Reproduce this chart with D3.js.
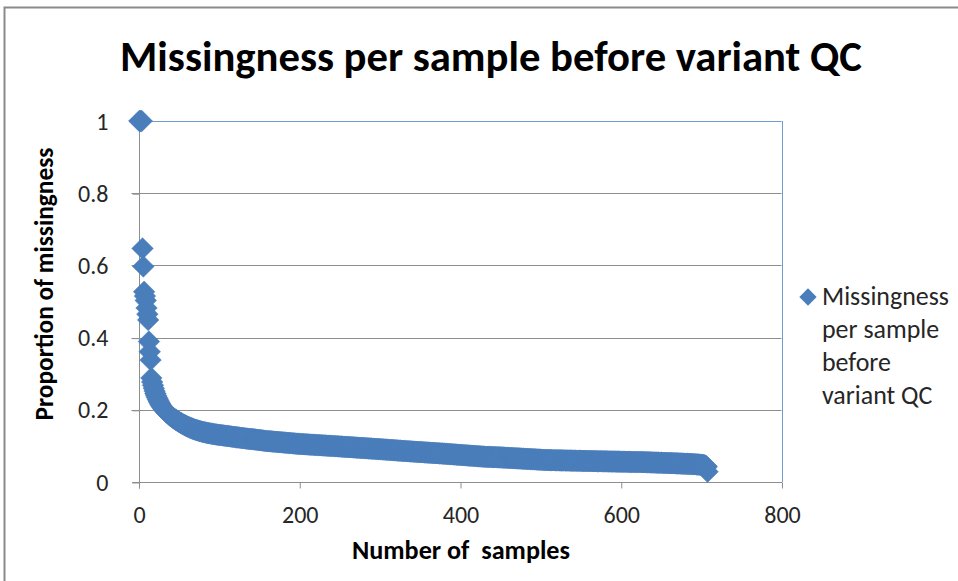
<!DOCTYPE html>
<html>
<head>
<meta charset="utf-8">
<script src="https://cdn.jsdelivr.net/npm/d3@7"></script>
<style>
  html, body { margin: 0; padding: 0; background: #fff; }
  svg { display: block; }
  text { font-family: Carlito, Lato, "Open Sans", sans-serif; }
</style>
</head>
<body>
<svg id="chart" width="958" height="581"></svg>
<script>
// Missingness proportion for each sample, sorted from highest to lowest.
const missingness = [
  1.0000, 1.0000, 1.0000, 1.0000, 0.6470, 0.5970, 0.5270, 0.5150, 0.5030, 0.4820,
  0.4650, 0.4490, 0.3890, 0.3610, 0.3380, 0.2880, 0.2770, 0.2680, 0.2600, 0.2520,
  0.2450, 0.2390, 0.2340, 0.2290, 0.2245, 0.2200, 0.2160, 0.2125, 0.2090, 0.2060,
  0.2030, 0.2002, 0.1976, 0.1951, 0.1928, 0.1906, 0.1885, 0.1865, 0.1846, 0.1828,
  0.1810, 0.1793, 0.1776, 0.1760, 0.1744, 0.1729, 0.1714, 0.1699, 0.1685, 0.1671,
  0.1657, 0.1644, 0.1631, 0.1618, 0.1605, 0.1593, 0.1581, 0.1569, 0.1558, 0.1547,
  0.1536, 0.1526, 0.1516, 0.1506, 0.1497, 0.1488, 0.1479, 0.1470, 0.1462, 0.1454,
  0.1446, 0.1439, 0.1432, 0.1425, 0.1418, 0.1412, 0.1406, 0.1400, 0.1394, 0.1388,
  0.1383, 0.1378, 0.1373, 0.1368, 0.1363, 0.1358, 0.1354, 0.1350, 0.1346, 0.1342,
  0.1338, 0.1334, 0.1330, 0.1326, 0.1322, 0.1318, 0.1315, 0.1312, 0.1309, 0.1306,
  0.1303, 0.1300, 0.1297, 0.1294, 0.1291, 0.1288, 0.1285, 0.1282, 0.1279, 0.1276,
  0.1273, 0.1270, 0.1267, 0.1264, 0.1261, 0.1258, 0.1255, 0.1252, 0.1249, 0.1246,
  0.1243, 0.1240, 0.1237, 0.1234, 0.1231, 0.1228, 0.1225, 0.1222, 0.1219, 0.1216,
  0.1213, 0.1210, 0.1207, 0.1204, 0.1201, 0.1198, 0.1196, 0.1194, 0.1192, 0.1190,
  0.1188, 0.1186, 0.1184, 0.1181, 0.1178, 0.1175, 0.1172, 0.1169, 0.1166, 0.1163,
  0.1160, 0.1157, 0.1154, 0.1151, 0.1148, 0.1145, 0.1142, 0.1139, 0.1137, 0.1135,
  0.1133, 0.1131, 0.1129, 0.1127, 0.1125, 0.1123, 0.1121, 0.1119, 0.1117, 0.1115,
  0.1113, 0.1111, 0.1109, 0.1107, 0.1105, 0.1103, 0.1101, 0.1099, 0.1097, 0.1095,
  0.1093, 0.1091, 0.1089, 0.1087, 0.1085, 0.1083, 0.1081, 0.1079, 0.1077, 0.1075,
  0.1073, 0.1071, 0.1069, 0.1067, 0.1065, 0.1063, 0.1061, 0.1059, 0.1057, 0.1055,
  0.1054, 0.1052, 0.1051, 0.1049, 0.1048, 0.1047, 0.1045, 0.1044, 0.1042, 0.1041,
  0.1040, 0.1038, 0.1037, 0.1035, 0.1034, 0.1033, 0.1031, 0.1030, 0.1028, 0.1027,
  0.1026, 0.1024, 0.1023, 0.1021, 0.1020, 0.1019, 0.1017, 0.1016, 0.1014, 0.1013,
  0.1012, 0.1010, 0.1009, 0.1007, 0.1006, 0.1005, 0.1003, 0.1002, 0.1000, 0.0999,
  0.0998, 0.0996, 0.0995, 0.0993, 0.0992, 0.0991, 0.0989, 0.0988, 0.0986, 0.0985,
  0.0983, 0.0982, 0.0980, 0.0979, 0.0977, 0.0976, 0.0974, 0.0973, 0.0971, 0.0970,
  0.0968, 0.0967, 0.0965, 0.0964, 0.0962, 0.0961, 0.0959, 0.0958, 0.0956, 0.0955,
  0.0953, 0.0952, 0.0950, 0.0949, 0.0947, 0.0946, 0.0944, 0.0943, 0.0941, 0.0940,
  0.0938, 0.0937, 0.0935, 0.0934, 0.0932, 0.0931, 0.0929, 0.0928, 0.0926, 0.0925,
  0.0923, 0.0922, 0.0920, 0.0919, 0.0917, 0.0916, 0.0914, 0.0913, 0.0911, 0.0910,
  0.0908, 0.0907, 0.0905, 0.0903, 0.0902, 0.0900, 0.0898, 0.0897, 0.0895, 0.0893,
  0.0892, 0.0890, 0.0888, 0.0887, 0.0885, 0.0883, 0.0882, 0.0880, 0.0878, 0.0877,
  0.0875, 0.0873, 0.0872, 0.0870, 0.0868, 0.0867, 0.0865, 0.0863, 0.0862, 0.0860,
  0.0858, 0.0857, 0.0855, 0.0854, 0.0852, 0.0851, 0.0849, 0.0848, 0.0846, 0.0845,
  0.0843, 0.0842, 0.0840, 0.0839, 0.0837, 0.0836, 0.0834, 0.0833, 0.0831, 0.0830,
  0.0828, 0.0827, 0.0825, 0.0824, 0.0822, 0.0821, 0.0819, 0.0818, 0.0816, 0.0815,
  0.0813, 0.0812, 0.0810, 0.0809, 0.0807, 0.0806, 0.0804, 0.0803, 0.0801, 0.0800,
  0.0798, 0.0797, 0.0795, 0.0794, 0.0792, 0.0791, 0.0789, 0.0788, 0.0786, 0.0785,
  0.0783, 0.0781, 0.0780, 0.0778, 0.0776, 0.0775, 0.0773, 0.0771, 0.0770, 0.0768,
  0.0766, 0.0765, 0.0763, 0.0761, 0.0760, 0.0758, 0.0756, 0.0755, 0.0753, 0.0751,
  0.0750, 0.0748, 0.0746, 0.0745, 0.0743, 0.0741, 0.0740, 0.0738, 0.0736, 0.0735,
  0.0733, 0.0731, 0.0730, 0.0728, 0.0726, 0.0725, 0.0723, 0.0721, 0.0720, 0.0718,
  0.0716, 0.0715, 0.0713, 0.0711, 0.0710, 0.0708, 0.0706, 0.0705, 0.0703, 0.0701,
  0.0700, 0.0699, 0.0698, 0.0697, 0.0696, 0.0695, 0.0694, 0.0693, 0.0692, 0.0691,
  0.0690, 0.0689, 0.0688, 0.0687, 0.0686, 0.0685, 0.0684, 0.0683, 0.0682, 0.0681,
  0.0680, 0.0679, 0.0677, 0.0676, 0.0675, 0.0674, 0.0672, 0.0671, 0.0670, 0.0669,
  0.0667, 0.0666, 0.0665, 0.0664, 0.0662, 0.0661, 0.0660, 0.0659, 0.0657, 0.0656,
  0.0655, 0.0654, 0.0652, 0.0651, 0.0650, 0.0649, 0.0647, 0.0646, 0.0645, 0.0644,
  0.0642, 0.0641, 0.0640, 0.0639, 0.0637, 0.0636, 0.0635, 0.0634, 0.0632, 0.0631,
  0.0630, 0.0629, 0.0627, 0.0626, 0.0625, 0.0624, 0.0622, 0.0621, 0.0620, 0.0619,
  0.0617, 0.0616, 0.0615, 0.0614, 0.0612, 0.0611, 0.0610, 0.0609, 0.0608, 0.0607,
  0.0606, 0.0606, 0.0605, 0.0605, 0.0604, 0.0604, 0.0603, 0.0603, 0.0602, 0.0602,
  0.0601, 0.0601, 0.0600, 0.0600, 0.0599, 0.0599, 0.0598, 0.0598, 0.0597, 0.0597,
  0.0596, 0.0596, 0.0595, 0.0595, 0.0594, 0.0594, 0.0593, 0.0593, 0.0592, 0.0592,
  0.0591, 0.0591, 0.0590, 0.0590, 0.0589, 0.0589, 0.0588, 0.0588, 0.0587, 0.0587,
  0.0586, 0.0586, 0.0585, 0.0585, 0.0584, 0.0584, 0.0583, 0.0583, 0.0582, 0.0582,
  0.0581, 0.0581, 0.0580, 0.0580, 0.0579, 0.0579, 0.0578, 0.0578, 0.0577, 0.0577,
  0.0576, 0.0576, 0.0575, 0.0575, 0.0574, 0.0574, 0.0573, 0.0573, 0.0572, 0.0572,
  0.0572, 0.0571, 0.0571, 0.0570, 0.0570, 0.0569, 0.0569, 0.0568, 0.0568, 0.0567,
  0.0567, 0.0567, 0.0566, 0.0566, 0.0565, 0.0565, 0.0564, 0.0564, 0.0563, 0.0563,
  0.0562, 0.0562, 0.0562, 0.0561, 0.0561, 0.0560, 0.0560, 0.0559, 0.0559, 0.0558,
  0.0558, 0.0557, 0.0557, 0.0557, 0.0556, 0.0556, 0.0555, 0.0555, 0.0554, 0.0554,
  0.0553, 0.0553, 0.0552, 0.0552, 0.0552, 0.0551, 0.0551, 0.0550, 0.0550, 0.0549,
  0.0548, 0.0547, 0.0547, 0.0546, 0.0545, 0.0544, 0.0543, 0.0542, 0.0542, 0.0541,
  0.0540, 0.0539, 0.0538, 0.0538, 0.0537, 0.0536, 0.0535, 0.0534, 0.0534, 0.0533,
  0.0532, 0.0531, 0.0530, 0.0530, 0.0529, 0.0528, 0.0527, 0.0526, 0.0526, 0.0525,
  0.0524, 0.0523, 0.0522, 0.0522, 0.0521, 0.0520, 0.0519, 0.0518, 0.0517, 0.0516,
  0.0515, 0.0514, 0.0513, 0.0512, 0.0511, 0.0510, 0.0509, 0.0508, 0.0507, 0.0506,
  0.0505, 0.0504, 0.0503, 0.0502, 0.0501, 0.0500, 0.0499, 0.0497, 0.0496, 0.0495,
  0.0493, 0.0492, 0.0490, 0.0489, 0.0487, 0.0485, 0.0483, 0.0481, 0.0479, 0.0477,
  0.0474, 0.0471, 0.0467, 0.0462, 0.0456, 0.0447, 0.0420, 0.0285
];

const xTickValues = [0, 200, 400, 600, 800];
const yTickValues = [0, 0.2, 0.4, 0.6, 0.8, 1];
const yTickLabels = ["0", "0.2", "0.4", "0.6", "0.8", "1"];

const chartTitle = "Missingness per sample before variant QC";
const xTitle = "Number of  samples";
const yTitle = "Proportion of missingness";
const legendLines = ["Missingness", "per sample", "before", "variant QC"];

// Points: sample number (1-based rank) against missingness
const points = missingness.map((v, i) => ({ sample: i + 1, value: v }));

const svg = d3.select("#chart");
const plot = { left: 138.5, right: 781.5, top: 121, bottom: 482 };

const x = d3.scaleLinear().domain([0, 800]).range([plot.left, plot.right]);
const y = d3.scaleLinear().domain([0, 1]).range([plot.bottom, plot.top]);

const markerFill = "#4A7EBB";
const gridColor = "#8e8e8e";
const labelColor = "#262626";
const tickFont = "24px";

// Outer chart frame
svg.append("rect")
  .attr("x", 4.5).attr("y", 7.5)
  .attr("width", 1000).attr("height", 700)
  .attr("fill", "none")
  .attr("stroke", "#8a8a8a")
  .attr("stroke-width", 2);

// Horizontal gridlines (with short tick stubs to the left of the axis)
svg.append("g")
  .selectAll("line")
  .data(yTickValues.filter(v => v > 0 && v < 1))
  .join("line")
  .attr("x1", plot.left - 7).attr("x2", plot.right)
  .attr("y1", d => Math.round(y(d)) + 0.5).attr("y2", d => Math.round(y(d)) + 0.5)
  .attr("stroke", gridColor).attr("stroke-width", 1);

// Plot-area border: top and right edges in light blue
svg.append("line")
  .attr("x1", plot.left).attr("x2", plot.right)
  .attr("y1", Math.round(y(1)) + 0.5).attr("y2", Math.round(y(1)) + 0.5)
  .attr("stroke", "#6f9bd0").attr("stroke-width", 1);
svg.append("line")
  .attr("x1", Math.round(plot.right) + 0.5).attr("x2", Math.round(plot.right) + 0.5)
  .attr("y1", plot.top).attr("y2", plot.bottom)
  .attr("stroke", "#6f9bd0").attr("stroke-width", 1);
// Stub for the top tick
svg.append("line")
  .attr("x1", plot.left - 7).attr("x2", plot.left)
  .attr("y1", Math.round(y(1)) + 0.5).attr("y2", Math.round(y(1)) + 0.5)
  .attr("stroke", gridColor).attr("stroke-width", 1);

// Y axis
const yAxis = d3.axisLeft(y)
  .tickValues(yTickValues)
  .tickFormat((d, i) => yTickLabels[i])
  .tickSize(7)
  .tickPadding(24);
const gy = svg.append("g")
  .attr("transform", `translate(${Math.round(plot.left) + 0.5},0.5)`)
  .call(yAxis);
gy.select(".domain").attr("stroke", gridColor).attr("d", `M0,${plot.top}V${plot.bottom + 6}`);
gy.selectAll(".tick line").attr("stroke", gridColor);
gy.selectAll(".tick text")
  .attr("fill", labelColor)
  .style("font-size", tickFont)
  .style("font-family", "Carlito, Lato, sans-serif");

// X axis
const xAxis = d3.axisBottom(x)
  .tickValues(xTickValues)
  .tickFormat(d3.format("d"))
  .tickSize(6)
  .tickPadding(17);
const gx = svg.append("g")
  .attr("transform", `translate(0.5,${Math.round(plot.bottom) + 0.5})`)
  .call(xAxis);
gx.select(".domain").attr("stroke", gridColor).attr("d", `M${plot.left - 7},0H${plot.right}`);
gx.selectAll(".tick line").attr("stroke", gridColor);
gx.selectAll(".tick text")
  .attr("fill", labelColor)
  .style("font-size", tickFont)
  .style("font-family", "Carlito, Lato, sans-serif");

// Diamond markers
const diamond = d3.symbol().type(d3.symbolSquare).size(233);
svg.append("g")
  .selectAll("path")
  .data(points)
  .join("path")
  .attr("d", diamond)
  .attr("transform", d => `translate(${x(d.sample)},${y(d.value)}) rotate(45)`)
  .attr("fill", markerFill)
  .attr("stroke", markerFill)
  .attr("stroke-width", 0.5);

// Fit a text element to a target width by adjusting its font size
function fitWidth(sel, target) {
  const node = sel.node();
  const fs = parseFloat(sel.style("font-size"));
  const w = node.getComputedTextLength();
  if (w > 0) sel.style("font-size", (fs * target / w).toFixed(2) + "px");
}

// Title
const title = svg.append("text")
  .attr("x", 491).attr("y", 71)
  .attr("text-anchor", "middle")
  .attr("fill", "#000")
  .style("font-weight", "bold")
  .style("font-size", "36px")
  .text(chartTitle);
fitWidth(title, 742);

// Axis titles
const xt = svg.append("text")
  .attr("x", 461).attr("y", 559)
  .attr("text-anchor", "middle")
  .attr("xml:space", "preserve")
  .style("white-space", "pre")
  .attr("fill", "#000")
  .style("font-weight", "bold")
  .style("font-size", "20px")
  .text(xTitle);
fitWidth(xt, 218);

const yt = svg.append("text")
  .attr("transform", "translate(53,284) rotate(-90)")
  .attr("text-anchor", "middle")
  .attr("fill", "#000")
  .style("font-weight", "bold")
  .style("font-size", "20px")
  .text(yTitle);
fitWidth(yt, 273);

// Legend
const legend = svg.append("g");
legend.append("path")
  .attr("d", d3.symbol().type(d3.symbolSquare).size(150))
  .attr("transform", "translate(808,297) rotate(45)")
  .attr("fill", markerFill);
const lt = legend.append("text")
  .attr("x", 822).attr("y", 305)
  .attr("fill", labelColor)
  .style("font-size", "21px");
lt.selectAll("tspan")
  .data(legendLines)
  .join("tspan")
  .attr("x", 822)
  .attr("dy", (d, i) => i === 0 ? 0 : 33)
  .text(d => d);
// Size the legend text so its first line spans the same width as the legend column
{
  const first = lt.select("tspan").node();
  const w = first.getComputedTextLength();
  if (w > 0) lt.style("font-size", (21 * 127 / w).toFixed(2) + "px");
}
</script>
</body>
</html>
